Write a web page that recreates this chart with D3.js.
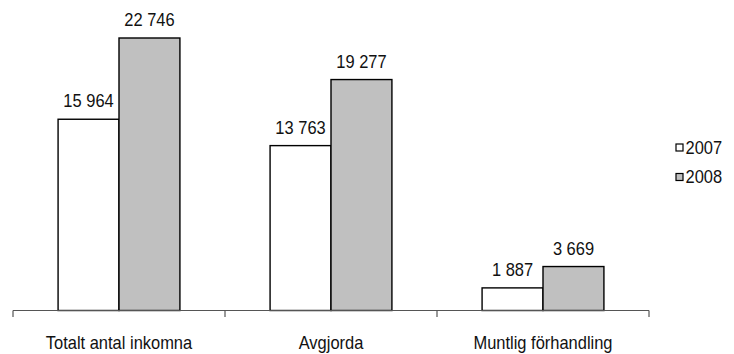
<!DOCTYPE html>
<html>
<head>
<meta charset="utf-8">
<script src="https://cdn.jsdelivr.net/npm/d3@7"></script>
<style>
  html, body { margin: 0; padding: 0; background: #fff; }
  svg text { font-family: "Liberation Sans", Arial, sans-serif; font-size: 18.5px; fill: #111; }
</style>
</head>
<body>
<svg id="chart" width="734" height="354"></svg>
<script>
// Case counts per category, 2007 vs 2008
const categories = ["Totalt antal inkomna", "Avgjorda", "Muntlig förhandling"];
const seriesNames = ["2007", "2008"];
const values2007 = [15964, 13763, 1887];
const values2008 = [22746, 19277, 3669];
const seriesColors = ["#ffffff", "#c0c0c0"];

const svg = d3.select("#chart");
const left = 13, right = 649, baseY = 310.5, topY = 38;
const narrow = 0.89; // horizontal squeeze for a condensed look

const x = d3.scaleBand().domain(categories).range([left, right]).paddingInner(0).paddingOuter(0);
const xs = d3.scaleBand().domain(seriesNames).range([0, x.bandwidth()]).paddingInner(0).paddingOuter(0.74);
const y = d3.scaleLinear().domain([0, d3.max(values2008)]).range([baseY, topY]);

const fmt = v => d3.format(",")(v).replace(/,/g, "\u00a0");
const place = (tx, ty) => `translate(${tx},${ty}) scale(${narrow},1)`;

const rows = categories.map((c, i) => ({ cat: c, vals: [values2007[i], values2008[i]] }));

const groups = svg.selectAll("g.grp").data(rows).join("g")
  .attr("class", "grp")
  .attr("transform", d => `translate(${x(d.cat)},0)`);

groups.selectAll("rect").data(d => d.vals.map((v, j) => ({ v, s: seriesNames[j], j })))
  .join("rect")
  .attr("x", d => xs(d.s))
  .attr("width", xs.bandwidth())
  .attr("y", d => y(d.v))
  .attr("height", d => baseY - y(d.v))
  .attr("fill", d => seriesColors[d.j])
  .attr("stroke", "#000")
  .attr("stroke-width", 1.4);

groups.selectAll("text.val").data(d => d.vals.map((v, j) => ({ v, s: seriesNames[j] })))
  .join("text")
  .attr("class", "val")
  .attr("transform", d => place(xs(d.s) + xs.bandwidth() / 2, y(d.v) - 12))
  .attr("text-anchor", "middle")
  .text(d => fmt(d.v));

// Category axis with ticks between groups
const axisG = svg.append("g").attr("transform", `translate(0,${baseY})`);
axisG.append("line")
  .attr("x1", left).attr("x2", right).attr("y1", 0).attr("y2", 0)
  .attr("stroke", "#555").attr("stroke-width", 1.2);
const tickPos = categories.map(c => x(c)).concat([right]);
axisG.selectAll("line.tick").data(tickPos).join("line")
  .attr("class", "tick")
  .attr("x1", d => d).attr("x2", d => d)
  .attr("y1", 0).attr("y2", 6.5)
  .attr("stroke", "#555").attr("stroke-width", 1.2);
axisG.selectAll("text.cat").data(categories).join("text")
  .attr("class", "cat")
  .attr("transform", d => place(x(d) + x.bandwidth() / 2, 38.5))
  .attr("text-anchor", "middle")
  .text(d => d);

// Legend
const legend = svg.append("g").attr("transform", "translate(675,0)");
const legY = [147.5, 177];
legend.selectAll("rect").data(seriesNames).join("rect")
  .attr("x", 1)
  .attr("y", (d, i) => legY[i] - 3.5)
  .attr("width", 7)
  .attr("height", 7)
  .attr("fill", (d, i) => seriesColors[i])
  .attr("stroke", "#000")
  .attr("stroke-width", 1.2);
legend.selectAll("text").data(seriesNames).join("text")
  .attr("transform", (d, i) => place(10.5, legY[i] + 6))
  .text(d => d);
</script>
</body>
</html>
